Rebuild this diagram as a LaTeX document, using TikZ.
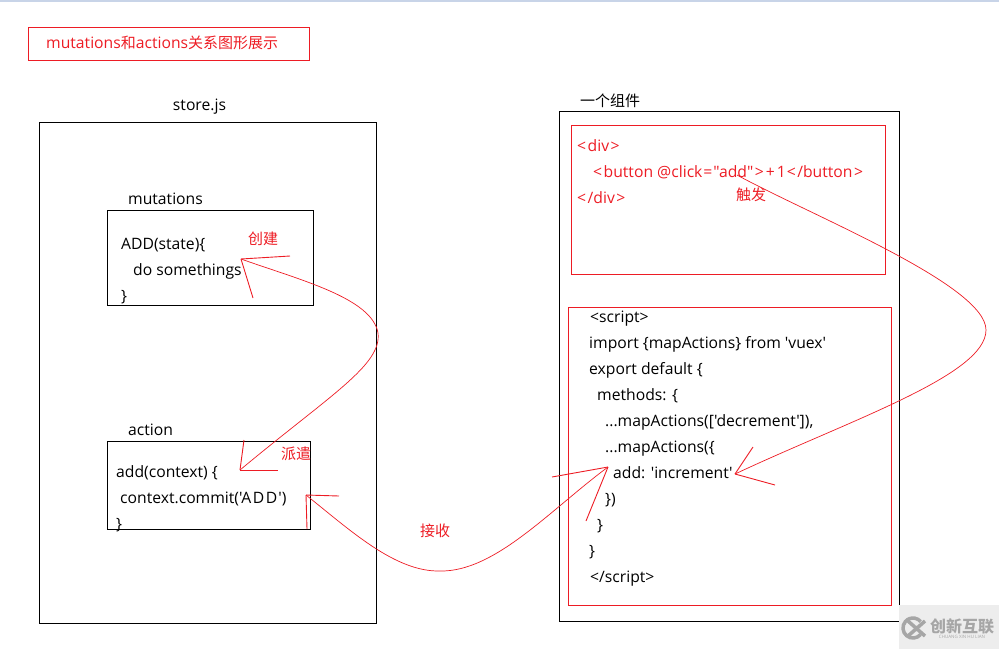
\documentclass[tikz,border=0pt]{standalone}
\usepackage{xcolor}
\usepackage{fontspec}
\newfontfamily\latn{Open Sans}
\newfontfamily\cjk{Noto Sans CJK SC}
\usepackage{tikz}
\usetikzlibrary{positioning}
\definecolor{penred}{HTML}{ED1C24}
\definecolor{markgray}{HTML}{A6A6A6}
\definecolor{topline}{HTML}{C8D4E8}
\newcommand{\lt}{<\kern1.5pt}
\newcommand{\gt}{\kern1.5pt>}

\begin{document}
\begin{tikzpicture}[
    x=1pt, y=-1pt,
    blackbox/.style={rectangle, draw=black, line width=1pt, inner sep=0pt},
    redbox/.style={rectangle, draw=penred, line width=1pt, inner sep=0pt},
    code/.style={inner sep=0pt, align=left, anchor=north west, font=\latn\fontsize{15.7}{26}\selectfont},
    caption/.style={inner sep=0pt, font=\latn\fontsize{15.7}{18}\selectfont},
    remark/.style={inner sep=0pt, text=penred, font=\cjk\fontsize{15}{18}\selectfont},
    curve/.style={draw=penred, line width=0.7pt},
    barb/.style={draw=penred, line width=0.9pt}
]
    \useasboundingbox (0,0) rectangle (999,649);
    \fill[topline] (0,0) rectangle (999,1.5);

    \node[redbox, minimum width=281pt, minimum height=33pt] (title) at (169,44) {};
    \node[caption, text=penred, anchor=west] (titletext) at (46,43) {mutations{\cjk\fontsize{15}{18}\selectfont 和}actions{\cjk\fontsize{15}{18}\selectfont 关系图形展示}};

    \node[blackbox, minimum width=337pt, minimum height=501pt] (store) at (208,373) {};
    \node[caption] (storelabel) at (199.5,107) {store.js};

    \node[blackbox, minimum width=206pt, minimum height=95pt] (mutbox) at (210.5,258) {};
    \node[caption, anchor=west] (mutlabel) at (128,198.5) {mutations};
    \node[code] (mutcode) at (121,238) {ADD(state)\{\\\hspace{12pt}do somethings\\\}};

    \node[blackbox, minimum width=203pt, minimum height=88pt] (actbox) at (209,485) {};
    \node[caption, anchor=west] (actlabel) at (128,429.5) {action};
    \node[code] (actcode) at (116,465) {add(context) \{\\\hspace{4pt}context.commit('A\kern1.5pt D\kern1.5pt D\kern1pt')\\\}};

    \node[blackbox, minimum width=340pt, minimum height=510pt] (comp) at (729.5,366.5) {};
    \node[remark, text=black, anchor=west] (complabel) at (580,101) {一个组件};

    \node[redbox, minimum width=314pt, minimum height=149pt] (divbox) at (728.5,200) {};
    \node[code, text=penred] (divcode) at (577,139.5) {\lt div\gt\\\hspace{16pt}\lt button @click\kern1pt=\kern1pt"add"\gt\kern2pt+\kern2pt1\kern1pt\lt/button\gt\\\lt/div\gt};

    \node[redbox, minimum width=323pt, minimum height=298pt] (scriptbox) at (730,456.5) {};
    \node[code] (scriptcode) at (589,311) {\hspace{1pt}<script>\\import \{mapActions\} from 'vuex'\\export default \{\\\hspace{8pt}methods: \{\\\hspace{16pt}...mapActions(['decrement']),\\\hspace{16pt}...mapActions(\{\\\hspace{24pt}add: 'increment'\\\hspace{16pt}\})\\\hspace{8pt}\}\\\}\\\hspace{1pt}</script>};

    \node[remark] (create) at (263,239) {创建};
    \node[remark] (dispatch) at (296,454) {派遣};
    \node[remark] (receive) at (435,531) {接收};
    \node[remark] (trigger) at (751,195) {触发};

    \coordinate (mutend) at (241,259);
    \coordinate (actend) at (240,470);
    \coordinate (commitend) at (306,495);
    \coordinate (addend) at (608,467);
    \coordinate (clickstart) at (737,175);
    \coordinate (incend) at (735,474);
    \coordinate (bulge) at (378,333);
    \coordinate (far) at (986,330);

    \draw[curve] (mutend) .. controls (300,280) and (372,298) .. (bulge)
        .. controls (382,365) and (330,395) .. (actend);
    \draw[curve] (commitend) .. controls (350,530) and (395,572) .. (440,571)
        .. controls (495,572) and (550,510) .. (addend);
    \draw[curve] (clickstart) .. controls (810,215) and (986,285) .. (far)
        .. controls (986,375) and (850,420) .. (incend);

    \draw[barb] (mutend) -- (290,256);
    \draw[barb] (mutend) -- (253,298);
    \draw[barb] (actend) -- (244,440);
    \draw[barb] (actend) -- (278,470);
    \draw[barb] (commitend) -- (339,496);
    \draw[barb] (commitend) -- (307,529);
    \draw[barb] (addend) -- (552,477);
    \draw[barb] (addend) -- (586,521);
    \draw[barb] (incend) -- (753,447);
    \draw[barb] (incend) -- (775,485);

    \node[rectangle, fill=black!7, minimum width=100pt, minimum height=44pt, inner sep=0pt] (markbg) at (949,627) {};
    \draw[markgray, line width=3.5pt] (913,628) ++(40:10) arc (40:320:10);
    \draw[markgray, line width=3.5pt] (908,621) -- (925,636) (908,636) -- (925,621);
    \node[inner sep=0pt, text=markgray, font=\cjk\bfseries\fontsize{16}{16}\selectfont] (markcn) at (962,626) {创新互联};
    \node[inner sep=0pt, text=markgray, font=\latn\fontsize{4.5}{5}\selectfont, below=1.5pt of markcn] (markpy) {CHUANG XIN HU LIAN};
\end{tikzpicture}
\end{document}
